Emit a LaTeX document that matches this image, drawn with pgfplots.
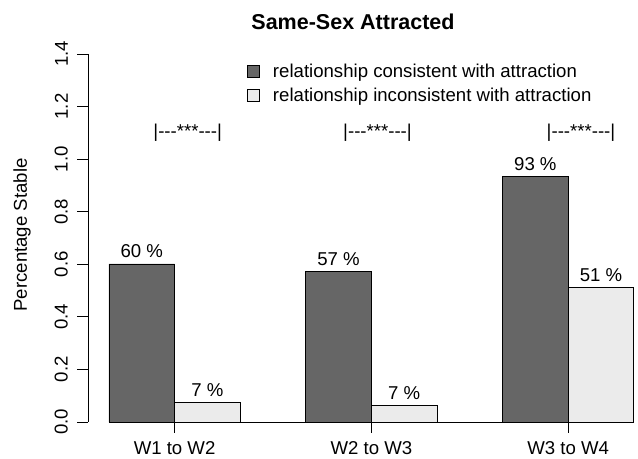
\documentclass[border=0pt]{standalone}
\usepackage{fontspec}
\setmainfont{Liberation Sans}
\usepackage{pgfplots}
\pgfplotsset{compat=1.18}
\definecolor{darkbar}{RGB}{102,102,102}
\definecolor{lightbar}{RGB}{235,235,235}
\newcommand{\basefont}{\fontsize{18.6bp}{22bp}\selectfont}
\begin{document}
\begin{tikzpicture}
\useasboundingbox (0,0) rectangle (638bp,459bp);
\begin{axis}[
  at={(88bp,22.3bp)}, anchor=south west,
  scale only axis, width=530bp, height=397.5bp,
  xmin=0.68, xmax=8.76, ymin=-0.056, ymax=1.456,
  axis lines*=left,
  x axis line style={draw=none}, y axis line style={draw=none},
  clip=false,
  xtick={2,5,8}, xticklabels={W1 to W2, W2 to W3, W3 to W4},
  x tick style={draw=none},
  xticklabel style={anchor=north, inner sep=0pt, yshift=-5bp},
  ytick={0,0.2,0.4,0.6,0.8,1.0,1.2,1.4},
  y tick style={black, line width=0.8bp},
  ytick align=outside, major tick length=11bp,
  yticklabel shift=9bp,
  yticklabel style={rotate=90, anchor=south, inner sep=0pt,
    /pgf/number format/.cd, fixed, fixed zerofill, precision=1},
  /pgf/number format/assume math mode=true,
  tick label style={font=\basefont},
  legend style={draw=none, fill=none, at={(axis cs:3.104,1.369)}, anchor=north west,
    font=\basefont, inner sep=0pt, row sep=5bp, column sep=11bp, legend cell align=left},
  nodes near coords style={font=\basefont, anchor=base, yshift=6bp, inner sep=0pt},
]
\addplot[ybar, bar width=1, bar shift=0pt, fill=darkbar, draw=black, line width=0.8bp,
  point meta=explicit symbolic, nodes near coords,
  legend image code/.code={\draw[fill=darkbar, draw=black, line width=0.8bp] (0bp,-6bp) rectangle (12bp,6bp);}]
  coordinates {(1.5,0.601) [60 \%] (4.5,0.571) [57 \%] (7.5,0.935) [93 \%]};
\addlegendentry{relationship consistent with attraction}
\addplot[ybar, bar width=1, bar shift=0pt, fill=lightbar, draw=black, line width=0.8bp,
  point meta=explicit symbolic, nodes near coords,
  legend image code/.code={\draw[fill=lightbar, draw=black, line width=0.8bp] (0bp,-6bp) rectangle (12bp,6bp);}]
  coordinates {(2.5,0.073) [7 \%] (5.5,0.064) [7 \%] (8.5,0.512) [51 \%]};
\addlegendentry{relationship inconsistent with attraction}
\addplot[black, line width=0.8bp, no marks, forget plot] coordinates {(1,0) (9,0)};
\addplot[black, line width=0.8bp, no marks, forget plot] coordinates {(2,0) (2,-0.042)};
\addplot[black, line width=0.8bp, no marks, forget plot] coordinates {(5,0) (5,-0.042)};
\addplot[black, line width=0.8bp, no marks, forget plot] coordinates {(8,0) (8,-0.042)};
\addplot[black, line width=0.8bp, no marks, forget plot] coordinates {(0.68,0) (0.68,1.4)};
\end{axis}
\node[font=\fontsize{21.5bp}{25bp}\selectfont\bfseries] at (353bp,437bp) {Same-Sex Attracted};
\node[font=\basefont, rotate=90] at (22bp,224bp) {Percentage Stable};
\node[font=\basefont, anchor=base, inner sep=0pt] at (187.7bp,321bp) {|-{}-{}-***-{}-{}-|};
\node[font=\basefont, anchor=base, inner sep=0pt] at (377.5bp,321bp) {|-{}-{}-***-{}-{}-|};
\node[font=\basefont, anchor=base, inner sep=0pt] at (581bp,321bp) {|-{}-{}-***-{}-{}-|};
\end{tikzpicture}
\end{document}
